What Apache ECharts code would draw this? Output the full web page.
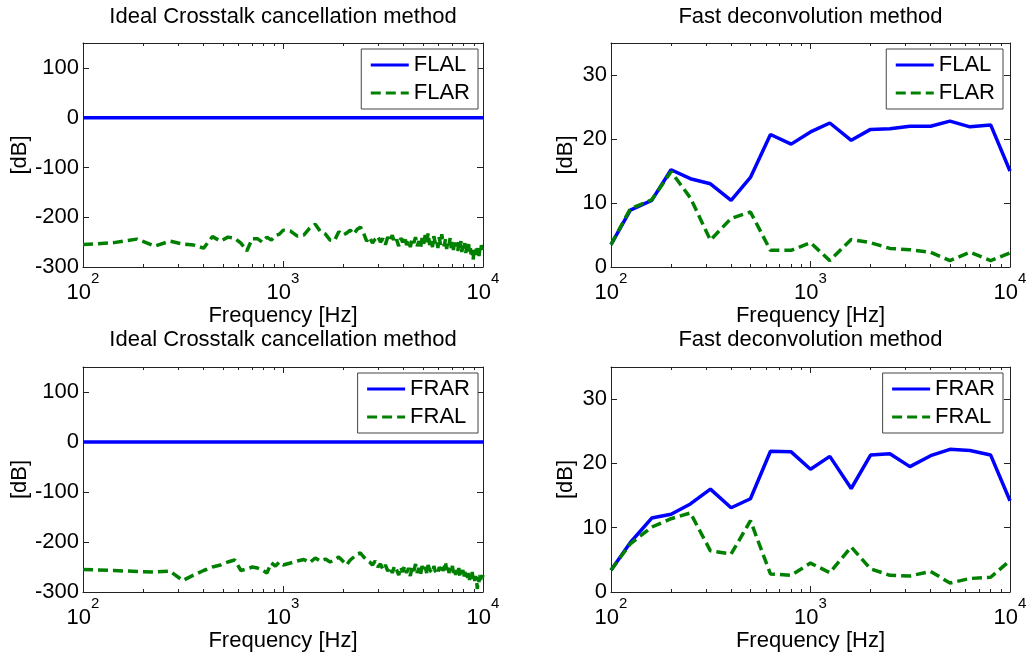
<!DOCTYPE html>
<html>
<head>
<meta charset="utf-8">
<script src="https://cdn.jsdelivr.net/npm/echarts@6/dist/echarts.min.js"></script>
<style>
  html, body { margin: 0; padding: 0; background: #fff; }
  #chart { width: 1031px; height: 654px; }
</style>
</head>
<body>
<div id="chart"></div>
<script>
// ---- Fast deconvolution: one-third-octave band results (Hz, dB) ----
const bandFreq = [100, 125, 160, 200, 250, 315, 400, 500, 630, 800, 1000,
                  1250, 1600, 2000, 2500, 3150, 4000, 5000, 6300, 8000, 10000];
const flalFast = [3.5, 8.9, 10.4, 15.2, 13.8, 13.0, 10.4, 14.0, 20.7, 19.2, 21.1,
                  22.5, 19.8, 21.5, 21.6, 22.0, 22.0, 22.8, 21.9, 22.2, 15.0];
const flarFast = [3.5, 9.1, 10.5, 14.9, 10.8, 4.2, 7.6, 8.6, 2.6, 2.6, 3.8,
                  1.0, 4.3, 3.8, 2.9, 2.7, 2.3, 1.0, 2.3, 1.0, 2.2];
const frarFast = [3.4, 7.7, 11.5, 12.1, 13.7, 16.0, 13.1, 14.5, 21.9, 21.8, 19.1,
                  21.1, 16.1, 21.3, 21.5, 19.5, 21.2, 22.2, 22.0, 21.3, 14.2];
const fralFast = [3.4, 7.5, 10.1, 11.4, 12.3, 6.4, 5.9, 11.1, 2.8, 2.6, 4.5,
                  3.0, 7.0, 3.6, 2.6, 2.5, 3.2, 1.4, 2.1, 2.3, 4.9];

// ---- Ideal crosstalk cancellation: direct paths are flat at 0 dB ----
const directFreq = [100, 10000];
const flalIdeal = [0, 0];
const frarIdeal = [0, 0];

// ---- Ideal crosstalk cancellation: residual crosstalk spectrum (Hz, dB) ----
const idealFreq = [
  100, 143, 186, 229, 272, 315, 358, 401, 444, 487, 530, 573, 616, 659, 702, 745,
  788, 831, 874, 917, 960, 1003,
  1090, 1180, 1270, 1360, 1450, 1540, 1630, 1720, 1810, 1900, 1990, 2080, 2170, 2260,
  2350, 2440, 2530, 2620, 2710, 2800, 2890, 2980, 3070, 3160, 3250, 3340, 3430, 3520,
  3610, 3700, 3790, 3880, 3970, 4060, 4150, 4240, 4330, 4420, 4510, 4600, 4690, 4780,
  4870, 4960, 5050, 5140, 5230, 5320, 5410, 5500, 5590, 5680, 5770, 5860, 5950, 6040,
  6130, 6220, 6310, 6400, 6490, 6580, 6670, 6760, 6850, 6940, 7030, 7120, 7210, 7300,
  7390, 7480, 7570, 7660, 7750, 7840, 7930, 8020, 8110, 8200, 8290, 8380, 8470, 8560,
  8650, 8740, 8830, 8920, 9010, 9100, 9190, 9280, 9370, 9460, 9550, 9640, 9730, 9820,
  9910, 10000
];
const flarIdeal = [
  -255, -251, -244, -258, -248, -254, -256, -262, -239, -248, -240, -242, -252, -268, -243, -243,
  -250, -240, -246, -237, -234, -226,
  -228, -238, -236, -222, -214, -229, -234, -246, -247, -229, -236, -232, -226, -234,
  -224, -220, -232, -248, -240, -252, -244, -238, -250, -243, -255, -240, -248, -236,
  -252, -245, -258, -242, -250, -239, -256, -246, -260, -244, -252, -240, -258, -248,
  -262, -242, -254, -236, -250, -232, -256, -244, -260, -238, -252, -246, -262, -240,
  -255, -234, -250, -258, -244, -264, -248, -256, -242, -262, -250, -266, -246, -258,
  -252, -268, -250, -262, -248, -270, -256, -264, -252, -272, -258, -266, -254, -274,
  -262, -280, -266, -286, -270, -262, -276, -258, -272, -262, -278, -264, -270, -256,
  -268, -260
];
const fralIdeal = [
  -255, -257, -259, -260, -258, -277, -266, -257, -250, -246, -240, -236, -257, -254, -250, -252,
  -256, -262, -242, -248, -240, -246,
  -242, -238, -235, -241, -232, -238, -234, -240, -236, -230, -238, -246, -236, -230,
  -224, -222, -230, -236, -240, -246, -238, -250, -244, -255, -246, -258, -250, -262,
  -248, -256, -266, -250, -260, -248, -262, -252, -268, -250, -258, -244, -262, -252,
  -266, -248, -258, -250, -262, -246, -256, -252, -262, -248, -258, -254, -264, -250,
  -256, -246, -258, -250, -240, -256, -248, -262, -252, -258, -248, -262, -254, -266,
  -256, -262, -252, -268, -258, -264, -256, -270, -260, -266, -258, -272, -262, -276,
  -264, -270, -260, -274, -266, -278, -268, -276, -294, -270, -280, -266, -276, -262,
  -272, -266
];

// ---- Axis ticks ----
const freqMinorTicks = [200, 300, 400, 500, 600, 700, 800, 900,
                        2000, 3000, 4000, 5000, 6000, 7000, 8000, 9000];

const FONT = '"Liberation Sans", Arial, Helvetica, sans-serif';
const BLUE = '#0000ff';
const GREEN = '#008000';

const zip = (xs, ys) => xs.map((x, i) => [x, ys[i]]);

const panels = [
  {
    title: 'Ideal Crosstalk cancellation method',
    box: { left: 83, top: 43, width: 400, height: 224 }, titleTop: 6,
    y: { min: -300, max: 150, interval: 100 }, yNameGap: 51, legendRight: 553,
    lines: [
      { name: 'FLAL', x: directFreq, y: flalIdeal, color: BLUE, dashed: false },
      { name: 'FLAR', x: idealFreq, y: flarIdeal, color: GREEN, dashed: true }
    ]
  },
  {
    title: 'Fast deconvolution method',
    box: { left: 611, top: 43, width: 399, height: 224 }, titleTop: 6,
    y: { min: 0, max: 35, interval: 10 }, yNameGap: 34, legendRight: 28,
    lines: [
      { name: 'FLAL', x: bandFreq, y: flalFast, color: BLUE, dashed: false },
      { name: 'FLAR', x: bandFreq, y: flarFast, color: GREEN, dashed: true }
    ]
  },
  {
    title: 'Ideal Crosstalk cancellation method',
    box: { left: 83, top: 367, width: 400, height: 225 }, titleTop: 329,
    y: { min: -300, max: 150, interval: 100 }, yNameGap: 51, legendRight: 553,
    lines: [
      { name: 'FRAR', x: directFreq, y: frarIdeal, color: BLUE, dashed: false },
      { name: 'FRAL', x: idealFreq, y: fralIdeal, color: GREEN, dashed: true }
    ]
  },
  {
    title: 'Fast deconvolution method',
    box: { left: 611, top: 367, width: 399, height: 225 }, titleTop: 329,
    y: { min: 0, max: 35, interval: 10 }, yNameGap: 34, legendRight: 28,
    lines: [
      { name: 'FRAR', x: bandFreq, y: frarFast, color: BLUE, dashed: false },
      { name: 'FRAL', x: bandFreq, y: fralFast, color: GREEN, dashed: true }
    ]
  }
];

const option = {
  backgroundColor: '#fff',
  animation: false,
  textStyle: { fontFamily: FONT },
  title: [], legend: [], grid: [], xAxis: [], yAxis: [], series: []
};

const axisLineStyle = { color: '#222', width: 1 };
const tickStyle = { color: '#222', width: 1 };

panels.forEach((p, gi) => {
  option.grid.push({ left: p.box.left, top: p.box.top, width: p.box.width, height: p.box.height });

  option.title.push({
    text: p.title,
    left: p.box.left + p.box.width / 2,
    top: p.titleTop,
    textAlign: 'center',
    padding: 0,
    textStyle: { fontSize: 22, fontWeight: 'normal', color: '#000', fontFamily: FONT }
  });

  const xCommon = { gridIndex: gi, type: 'log', logBase: 10, min: 100, max: 10000, splitLine: { show: false } };
  const xMain = option.xAxis.length;
  // bottom axis: decade ticks and 10^n labels
  option.xAxis.push(Object.assign({}, xCommon, {
    position: 'bottom',
    axisLine: { show: true, onZero: false, lineStyle: axisLineStyle },
    axisTick: { show: true, inside: true, length: 6, lineStyle: tickStyle },
    axisLabel: {
      margin: 15,
      formatter: v => '{b|10}{e|' + Math.round(Math.log10(v)) + '}',
      rich: {
        b: { fontSize: 22, color: '#000', fontFamily: FONT, lineHeight: 22, verticalAlign: 'bottom' },
        e: { fontSize: 15, color: '#000', fontFamily: FONT, lineHeight: 15, verticalAlign: 'bottom', padding: [0, 0, 18, 0] }
      }
    },
    name: 'Frequency [Hz]', nameLocation: 'middle', nameGap: 36,
    nameTextStyle: { fontSize: 22, color: '#000', fontFamily: FONT }
  }));
  // bottom axis: minor ticks
  option.xAxis.push(Object.assign({}, xCommon, {
    position: 'bottom',
    axisLine: { show: false, onZero: false },
    axisTick: { show: true, inside: true, length: 3, customValues: freqMinorTicks, lineStyle: tickStyle },
    axisLabel: { show: false }
  }));
  // top edge of the box
  option.xAxis.push(Object.assign({}, xCommon, {
    position: 'top',
    axisLine: { show: true, onZero: false, lineStyle: axisLineStyle },
    axisTick: { show: true, inside: true, length: 6, lineStyle: tickStyle },
    axisLabel: { show: false }
  }));
  option.xAxis.push(Object.assign({}, xCommon, {
    position: 'top',
    axisLine: { show: false, onZero: false },
    axisTick: { show: true, inside: true, length: 3, customValues: freqMinorTicks, lineStyle: tickStyle },
    axisLabel: { show: false }
  }));

  const yCommon = { gridIndex: gi, type: 'value', min: p.y.min, max: p.y.max, interval: p.y.interval, splitLine: { show: false } };
  const yMain = option.yAxis.length;
  option.yAxis.push(Object.assign({}, yCommon, {
    position: 'left',
    axisLine: { show: true, onZero: false, lineStyle: axisLineStyle },
    axisTick: { show: true, inside: true, length: 6, lineStyle: tickStyle },
    axisLabel: { margin: 4, fontSize: 22, color: '#000', fontFamily: FONT, showMaxLabel: false },
    name: '[dB]', nameLocation: 'middle', nameGap: p.yNameGap, nameRotate: 90,
    nameTextStyle: { fontSize: 22, color: '#000', fontFamily: FONT }
  }));
  option.yAxis.push(Object.assign({}, yCommon, {
    position: 'right',
    axisLine: { show: true, onZero: false, lineStyle: axisLineStyle },
    axisTick: { show: true, inside: true, length: 6, lineStyle: tickStyle },
    axisLabel: { show: false }
  }));

  p.lines.forEach(l => {
    option.series.push({
      type: 'line',
      name: l.name,
      xAxisIndex: xMain,
      yAxisIndex: yMain,
      data: zip(l.x, l.y),
      symbol: 'none',
      color: l.color,
      lineStyle: { color: l.color, width: 3.5, type: l.dashed ? [10, 5] : 'solid', cap: 'butt' },
      clip: true
    });
  });

  option.legend.push({
    data: p.lines.map(l => l.name),
    orient: 'vertical',
    right: p.legendRight,
    top: p.box.top + 6,
    itemWidth: 38,
    itemHeight: 14,
    itemGap: 6,
    padding: [5, 8, 5, 8],
    borderColor: '#444',
    borderWidth: 1,
    backgroundColor: '#fff',
    selectedMode: false,
    itemStyle: { opacity: 0 },
    lineStyle: { width: 3 },
    textStyle: { fontSize: 22, color: '#000', fontFamily: FONT }
  });
});

const chart = echarts.init(document.getElementById('chart'), null, { renderer: 'canvas' });
chart.setOption(option);
</script>
</body>
</html>
